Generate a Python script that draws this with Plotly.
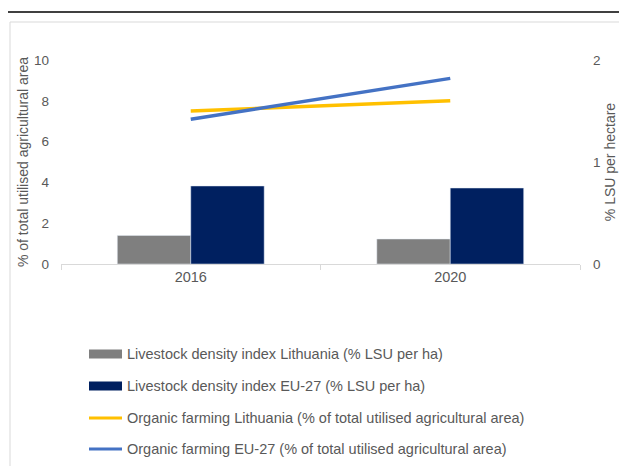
import plotly.graph_objects as go

years = ["2016", "2020"]
livestock_lt = [0.28, 0.245]
livestock_eu = [0.765, 0.745]
organic_lt = [7.5, 8.0]
organic_eu = [7.1, 9.1]
names = [
    "Livestock density index Lithuania (% LSU per ha)",
    "Livestock density index EU-27 (% LSU per ha)",
    "Organic farming Lithuania (% of total utilised agricultural area)",
    "Organic farming EU-27 (% of total utilised agricultural area)",
]
colors = ["#7F7F7F", "#002060", "#FFC000", "#4472C4"]
left_title = "% of total utilised agricultural area"
right_title = "% LSU per hectare"

FONT = "Liberation Sans"
TXT = "#595959"

fig = go.Figure()
fig.add_trace(go.Bar(x=years, y=livestock_lt, name=names[0], marker_color=colors[0],
                     yaxis="y2", showlegend=False))
fig.add_trace(go.Bar(x=years, y=livestock_eu, name=names[1], marker_color=colors[1],
                     yaxis="y2", showlegend=False))
fig.add_trace(go.Scatter(x=years, y=organic_lt, name=names[2], mode="lines",
                         line=dict(color=colors[2], width=3.5), showlegend=False))
fig.add_trace(go.Scatter(x=years, y=organic_eu, name=names[3], mode="lines",
                         line=dict(color=colors[3], width=3.5), showlegend=False))

L, R, T, B = 61, 580, 60, 264
W, H = 619, 466
pw, ph = R - L, B - T

def px(x):
    return (x - L) / pw

def py(y):
    return (B - y) / ph

shapes = [
    dict(type="line", xref="paper", yref="paper", x0=px(8), x1=px(619), y0=py(12), y1=py(12),
         line=dict(color="#000000", width=1.5)),
    dict(type="rect", xref="paper", yref="paper", x0=px(10), x1=px(640), y0=py(490), y1=py(22),
         line=dict(color="#D9D9D9", width=1)),
]
annotations = []
rows = [354, 386, 418, 449]
for i, (nm, c) in enumerate(zip(names, colors)):
    yc = rows[i]
    if i < 2:
        shapes.append(dict(type="rect", xref="paper", yref="paper", x0=px(89), x1=px(122),
                           y0=py(yc + 4.5), y1=py(yc - 4.5), fillcolor=c, line=dict(width=0)))
    else:
        shapes.append(dict(type="line", xref="paper", yref="paper", x0=px(89), x1=px(122),
                           y0=py(yc), y1=py(yc), line=dict(color=c, width=3)))
    annotations.append(dict(xref="paper", yref="paper", x=px(125), y=py(yc), text=nm,
                            showarrow=False, xanchor="left", yanchor="middle",
                            font=dict(family=FONT, size=14.5, color=TXT)))

fig.update_layout(
    width=W, height=H,
    margin=dict(l=L, r=W - R, t=T, b=H - B, autoexpand=False),
    paper_bgcolor="white", plot_bgcolor="white",
    barmode="group", bargap=0.434, bargroupgap=0,
    font=dict(family=FONT, size=14, color=TXT),
    xaxis=dict(type="category", showgrid=False, showline=True, linecolor="#D9D9D9", linewidth=1,
               ticks="outside", tickson="boundaries", ticklen=5, tickcolor="#D9D9D9",
               tickfont=dict(size=14.5, color=TXT), automargin=False),
    yaxis=dict(range=[0, 10], dtick=2, showgrid=False, zeroline=False, showline=False,
               tickfont=dict(size=13.5, color=TXT), ticklabelstandoff=11, automargin=False,
               title=dict(text=left_title, standoff=2, font=dict(size=14, color=TXT))),
    yaxis2=dict(range=[0, 2], dtick=1, overlaying="y", side="right", showgrid=False,
                zeroline=False, showline=False, tickfont=dict(size=13.5, color=TXT),
                ticklabelstandoff=12, automargin=False,
                title=dict(text=right_title, standoff=5, font=dict(size=14, color=TXT))),
    shapes=shapes,
    annotations=annotations,
)

fig.write_html("out.html", config={"displayModeBar": False},
               post_script="document.body.style.margin='0';document.body.style.overflow='hidden';")
